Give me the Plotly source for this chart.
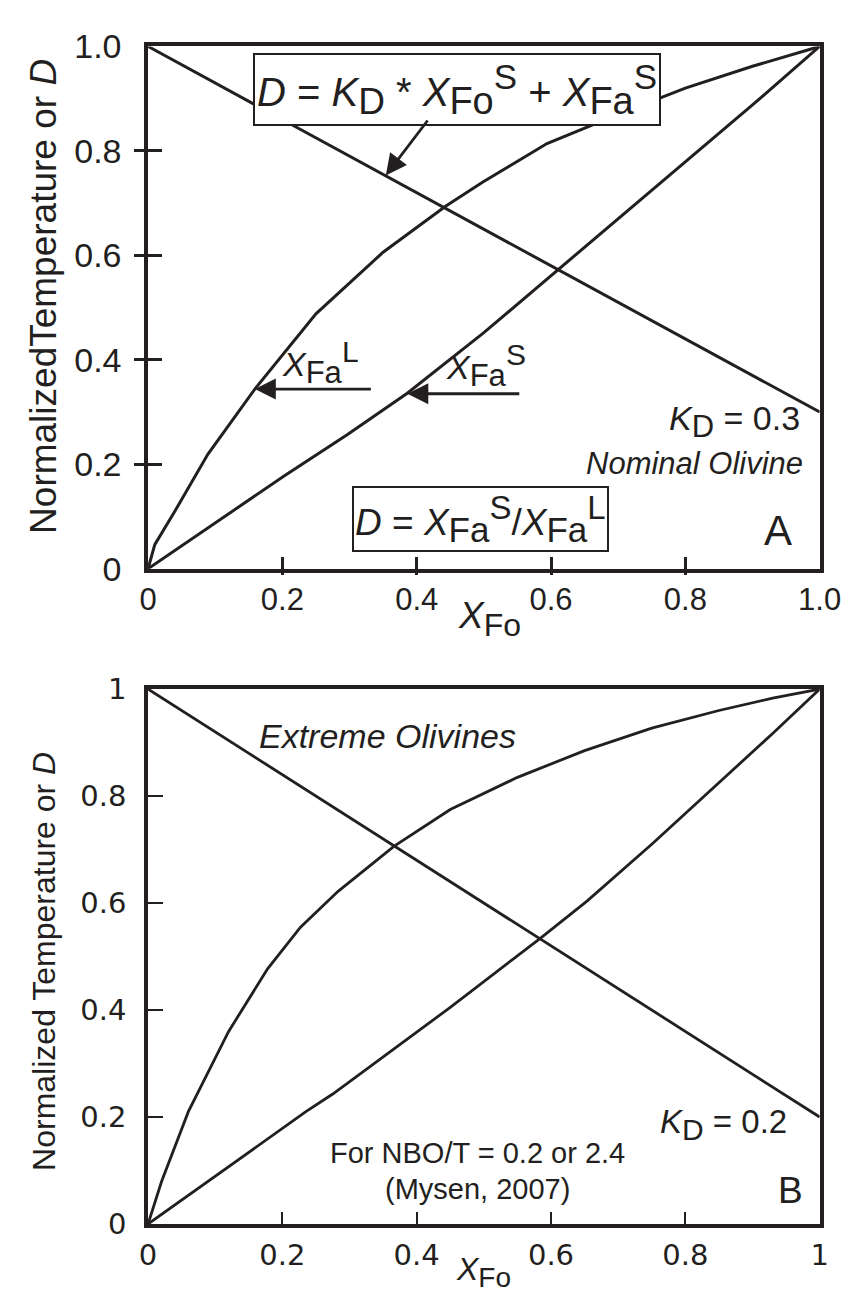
import plotly.graph_objects as go

# ---------------- data ----------------
# Panel A (K_D = 0.3)
a_d_x = [0.0, 1.0]
a_d_y = [1.0, 0.3]
a_liq_x = [0.0, 0.01, 0.039, 0.089, 0.159, 0.25, 0.35, 0.443, 0.498, 0.594, 0.70, 0.80, 0.90, 1.0]
a_liq_y = [0.0, 0.046, 0.108, 0.219, 0.344, 0.488, 0.606, 0.694, 0.74, 0.814, 0.87, 0.92, 0.962, 1.0]
a_sol_x = [0.0, 0.0875, 0.202, 0.297, 0.386, 0.50, 0.608, 0.70, 0.80, 0.90, 1.0]
a_sol_y = [0.0, 0.076, 0.177, 0.257, 0.336, 0.452, 0.57, 0.67, 0.778, 0.888, 1.0]

# Panel B (K_D = 0.2)
b_d_x = [0.0, 1.0]
b_d_y = [1.0, 0.2]
b_liq_x = [0.0, 0.02, 0.06, 0.12, 0.178, 0.227, 0.283, 0.366, 0.45, 0.55, 0.65, 0.75, 0.85, 0.93, 1.0]
b_liq_y = [0.0, 0.079, 0.21, 0.36, 0.477, 0.555, 0.622, 0.706, 0.775, 0.835, 0.885, 0.927, 0.96, 0.983, 1.0]
b_sol_x = [0.0, 0.10, 0.235, 0.275, 0.35, 0.45, 0.584, 0.654, 0.75, 0.85, 0.93, 1.0]
b_sol_y = [0.0, 0.089, 0.21, 0.243, 0.313, 0.405, 0.534, 0.604, 0.71, 0.824, 0.917, 1.0]

a_tickvals = [0, 0.2, 0.4, 0.6, 0.8, 1.0]
a_ticktext = ["0", "0.2", "0.4", "0.6", "0.8", "1.0"]
b_tickvals = [0, 0.2, 0.4, 0.6, 0.8, 1.0]
b_ticktext = ["0", "0.2", "0.4", "0.6", "0.8", "1"]
inner_ticks = [0.2, 0.4, 0.6, 0.8]

# ---------------- figure ----------------
W, H = 851, 1302
INK = "#231f20"
FONT = "Liberation Sans, Arial, Helvetica, sans-serif"
FONT_B = "DejaVu Sans, Verdana, sans-serif"

xdom = [136 / W, 833 / W]
ydomA = [1 - 558 / H, 1 - 20 / H]
ydomB = [1 - 1233 / H, 1 - 682 / H]

fig = go.Figure()
lineA = dict(color=INK, width=3)
lineB = dict(color=INK, width=2.8)
fig.add_trace(go.Scatter(x=a_d_x, y=a_d_y, mode="lines", line=lineA, xaxis="x", yaxis="y"))
fig.add_trace(go.Scatter(x=a_liq_x, y=a_liq_y, mode="lines", line=lineA, xaxis="x", yaxis="y"))
fig.add_trace(go.Scatter(x=a_sol_x, y=a_sol_y, mode="lines", line=lineA, xaxis="x", yaxis="y"))
fig.add_trace(go.Scatter(x=b_d_x, y=b_d_y, mode="lines", line=lineB, xaxis="x2", yaxis="y2"))
fig.add_trace(go.Scatter(x=b_liq_x, y=b_liq_y, mode="lines", line=lineB, xaxis="x2", yaxis="y2"))
fig.add_trace(go.Scatter(x=b_sol_x, y=b_sol_y, mode="lines", line=lineB, xaxis="x2", yaxis="y2"))
# empty trace to activate overlay axes (outer half of the crossing ticks in panel A)
fig.add_trace(go.Scatter(x=[], y=[], xaxis="x3", yaxis="y3", showlegend=False))

common = dict(range=[0, 1], showgrid=False, zeroline=False, fixedrange=True)

fig.update_layout(
    width=W, height=H, autosize=False,
    margin=dict(l=0, r=0, t=0, b=0),
    paper_bgcolor="white", plot_bgcolor="white",
    showlegend=False,
    font=dict(family=FONT, color=INK),
    xaxis=dict(domain=xdom, anchor="y", **common,
               showline=True, linecolor=INK, linewidth=3.5, mirror=True,
               tickvals=a_tickvals, ticktext=a_ticktext, ticks="inside", ticklen=12,
               tickwidth=2.5, tickcolor=INK, tickfont=dict(size=31, family=FONT, color=INK),
               ticklabelstandoff=0),
    yaxis=dict(domain=ydomA, anchor="x", **common,
               showline=True, linecolor=INK, linewidth=3.5, mirror=True,
               tickvals=a_tickvals, ticktext=a_ticktext, ticks="inside", ticklen=14,
               tickwidth=2.5, tickcolor=INK, tickfont=dict(size=34, family=FONT, color=INK),
               ticklabelstandoff=16),
    xaxis3=dict(overlaying="x", anchor="y", **common, showline=False,
                tickvals=inner_ticks, ticks="outside", ticklen=5, tickwidth=2.5,
                tickcolor=INK, showticklabels=False),
    yaxis3=dict(overlaying="y", anchor="x", **common, showline=False,
                tickvals=inner_ticks, ticks="outside", ticklen=13, tickwidth=2.5,
                tickcolor=INK, showticklabels=False),
    xaxis2=dict(domain=xdom, anchor="y2", **common,
                showline=True, linecolor=INK, linewidth=3.5, mirror=True,
                tickvals=b_tickvals, ticktext=b_ticktext, ticks="inside", ticklen=12,
                tickwidth=2, tickcolor=INK, tickfont=dict(size=29, family=FONT_B, color=INK),
                ticklabelstandoff=2),
    yaxis2=dict(domain=ydomB, anchor="x2", **common,
                showline=True, linecolor=INK, linewidth=3.5, mirror=True,
                tickvals=b_tickvals, ticktext=b_ticktext, ticks="inside", ticklen=15,
                tickwidth=2, tickcolor=INK, tickfont=dict(size=29, family=FONT_B, color=INK),
                ticklabelstandoff=12),
)


def sub(t, px):
    return f'<sub><span style="font-size:{px}px">{t}</span></sub>'


def sup(t, px):
    return f'<sup><span style="font-size:{px}px">{t}</span></sup>'


ann = []


def txt(x, y, text, size, xref="x", yref="y", xanchor="center", yanchor="middle", **kw):
    d = dict(x=x, y=y, xref=xref, yref=yref, text=text, showarrow=False,
             font=dict(size=size, family=FONT, color=INK), xanchor=xanchor, yanchor=yanchor)
    d.update(kw)
    ann.append(d)


def arrow(x, y, ax, ay, xref="x", yref="y"):
    ann.append(dict(x=x, y=y, ax=ax, ay=ay, xref=xref, yref=yref, axref=xref, ayref=yref,
                    text="", showarrow=True, arrowhead=2, arrowsize=1.5, arrowwidth=2.8,
                    arrowcolor=INK))


# Panel A
txt(0.156, 0.918,
    "<i>D</i> = <i>K</i>" + sub("D", 37) + " * <i>X</i>" + sub("Fo", 38) + sup("S", 35)
    + " + <i>X</i>" + sub("Fa", 38) + sup("S", 35),
    40, xanchor="left", yanchor="middle",
    bordercolor=INK, borderwidth=2, borderpad=2, bgcolor="white")
arrow(0.354, 0.753, 0.418, 0.861)
txt(0.197, 0.338, "<i>X</i>" + sub("Fa", 31) + sup("L", 30), 34, xanchor="left", yanchor="bottom")
arrow(0.159, 0.344, 0.334, 0.344)
txt(0.441, 0.333, "<i>X</i>" + sub("Fa", 31) + sup("S", 30), 34, xanchor="left", yanchor="bottom")
arrow(0.386, 0.335, 0.555, 0.335)
txt(0.304, 0.0957,
    "<i>D</i> = <i>X</i>" + sub("Fa", 35) + sup("S", 33) + "/<i>X</i>" + sub("Fa", 35) + sup("L", 33),
    37, xanchor="left", yanchor="middle",
    bordercolor=INK, borderwidth=2, borderpad=1, bgcolor="white")
txt(0.974, 0.281, "<i>K</i>" + sub("D", 31) + " = 0.3", 34, xanchor="right")
txt(0.978, 0.201, "<i>Nominal Olivine</i>", 31, xanchor="right")
txt(0.938, 0.074, "A", 42)
txt(0.508, 1 - 583 / H, "<i>X</i>" + sub("Fo", 32), 37, yref="paper", yanchor="top")
txt(28 / W, 1 - 277 / H, "Normalized\u200bTemperature or <i>D</i>", 37, xref="paper", yref="paper",
    textangle=-90)

# Panel B
txt(0.357, 0.913, "<i>Extreme Olivines</i>", 34, xref="x2", yref="y2")
txt(0.955, 0.186, "<i>K</i>" + sub("D", 30) + " = 0.2", 33, xref="x2", yref="y2", xanchor="right")
txt(0.491, 0.132, "For NBO/T = 0.2 or 2.4", 29, xref="x2", yref="y2")
txt(0.491, 0.065, "(Mysen, 2007)", 29, xref="x2", yref="y2")
txt(0.956, 0.062, "B", 37, xref="x2", yref="y2")
txt(0.50, 1 - 1259 / H, "<i>X</i>" + sub("Fo", 28), 32, xref="x2", yref="paper", yanchor="top")
txt(28 / W, 1 - 962 / H, "Normalized Temperature or <i>D</i>", 32, xref="paper", yref="paper",
    textangle=-90)

fig.update_layout(annotations=ann)
fig.write_html("out.html")
